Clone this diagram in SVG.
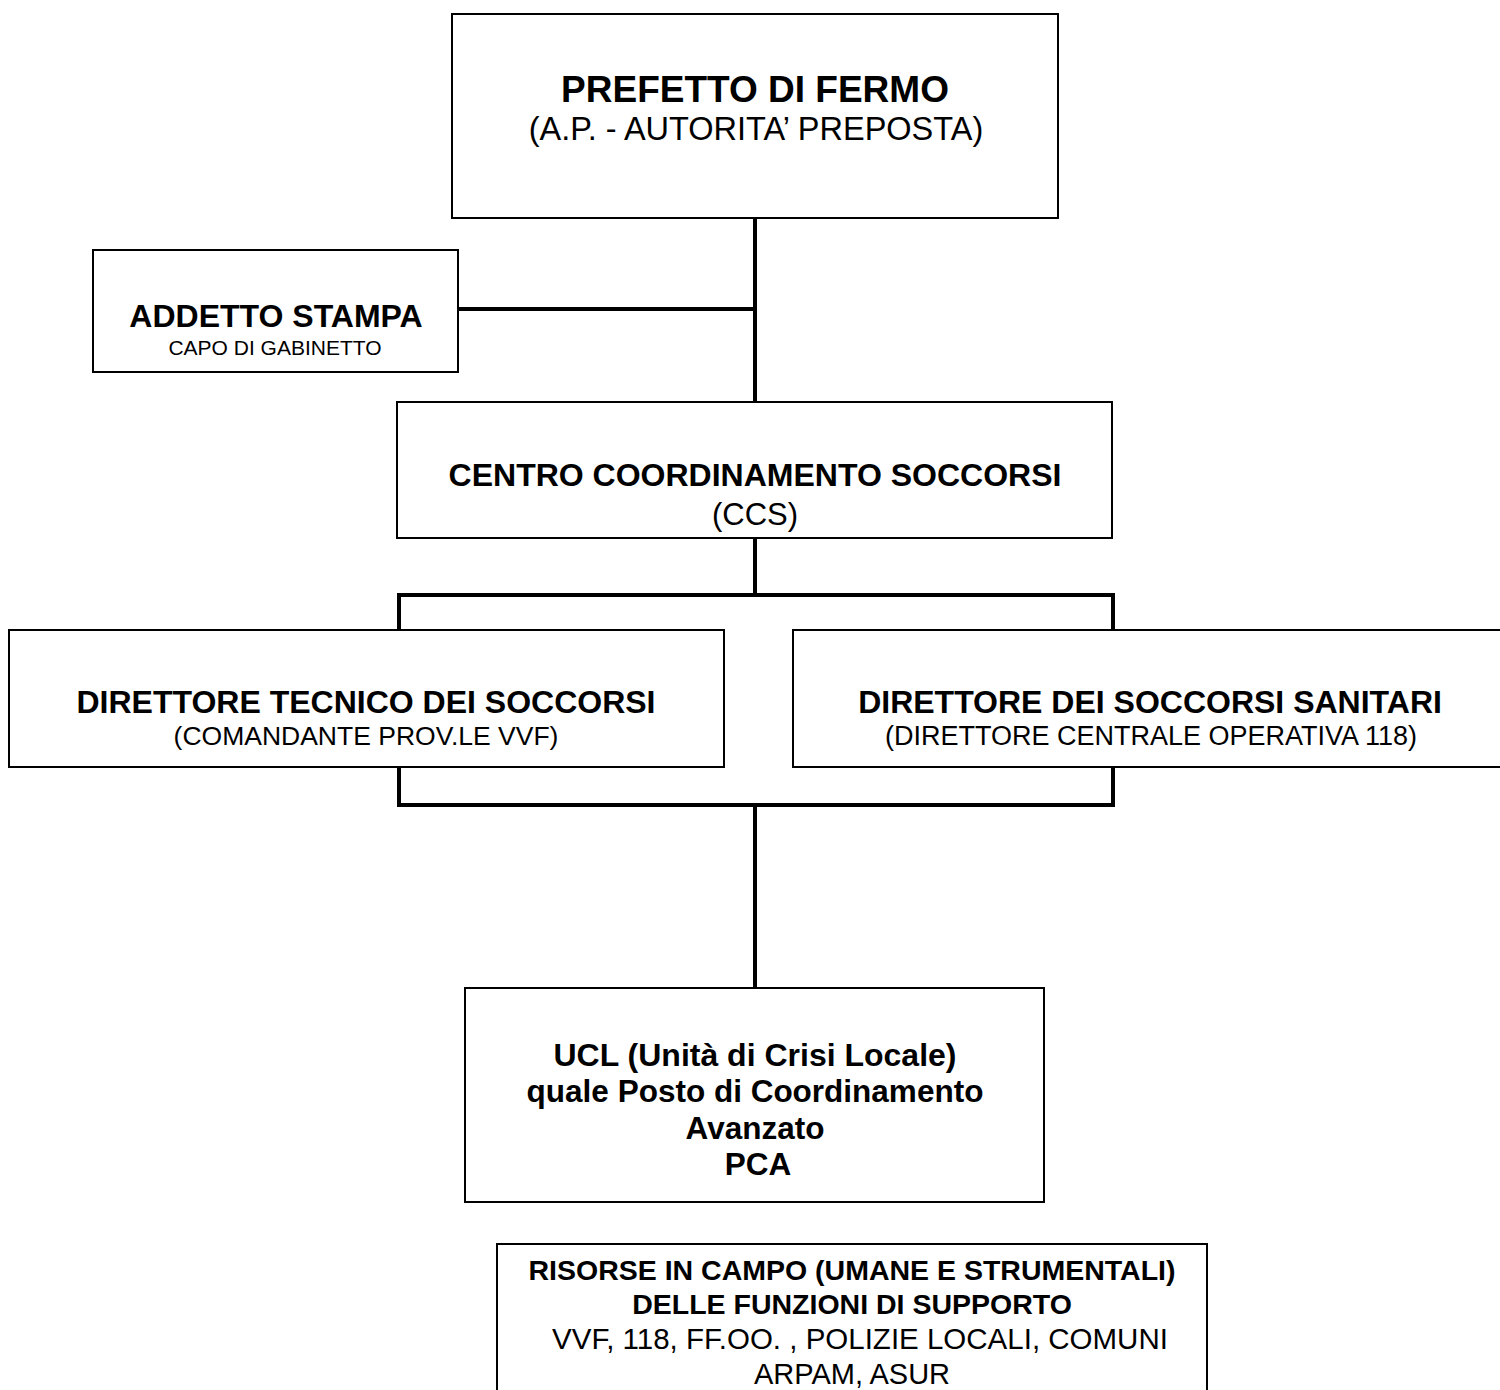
<svg xmlns="http://www.w3.org/2000/svg" width="1500" height="1390" viewBox="0 0 1500 1390">
<style>
.box{fill:#fff;stroke:#000;stroke-width:2}
.con{fill:none;stroke:#000;stroke-width:4;stroke-linecap:square}
text{font-family:"Liberation Sans",Arial,sans-serif;fill:#000;text-anchor:middle}
.b{font-weight:bold}
</style>
<rect width="1500" height="1390" fill="#fff"/>
<g id="connectors">
<path class="con" d="M755,218 V402"/>
<path class="con" d="M458,309 H755"/>
<path class="con" d="M755,538 V595"/>
<path class="con" d="M399,630 V595 H1113 V630"/>
<path class="con" d="M399,767 V805 H1113 V767"/>
<path class="con" d="M755,805 V988"/>
</g>
<g id="prefetto">
<rect class="box" x="452" y="14" width="606" height="204"/>
<text class="b" x="755" y="102" font-size="37">PREFETTO DI FERMO</text>
<text x="756" y="140" font-size="32.5">(A.P. - AUTORITA’ PREPOSTA)</text>
</g>
<g id="addetto">
<rect class="box" x="93" y="250" width="365" height="122"/>
<text class="b" x="276" y="327" font-size="32">ADDETTO STAMPA</text>
<text x="275" y="355" font-size="21">CAPO DI GABINETTO</text>
</g>
<g id="ccs">
<rect class="box" x="397" y="402" width="715" height="136"/>
<text class="b" x="755" y="486" font-size="32">CENTRO COORDINAMENTO SOCCORSI</text>
<text x="755" y="525" font-size="31">(CCS)</text>
</g>
<g id="dts">
<rect class="box" x="9" y="630" width="715" height="137"/>
<text class="b" x="366" y="713" font-size="32">DIRETTORE TECNICO DEI SOCCORSI</text>
<text x="366" y="745" font-size="26.5">(COMANDANTE PROV.LE VVF)</text>
</g>
<g id="dss">
<rect class="box" x="793" y="630" width="712" height="137"/>
<text class="b" x="1150" y="713" font-size="32">DIRETTORE DEI SOCCORSI SANITARI</text>
<text x="1151" y="745" font-size="27">(DIRETTORE CENTRALE OPERATIVA 118)</text>
</g>
<g id="ucl">
<rect class="box" x="465" y="988" width="579" height="214"/>
<text class="b" x="755" y="1066" font-size="32">UCL (Unità di Crisi Locale)</text>
<text class="b" x="755" y="1102" font-size="31.5">quale Posto di Coordinamento</text>
<text class="b" x="755" y="1139" font-size="31.5">Avanzato</text>
<text class="b" x="758" y="1175" font-size="31.5">PCA</text>
</g>
<g id="risorse">
<rect class="box" x="497" y="1244" width="710" height="160"/>
<text class="b" x="852" y="1280" font-size="28.5">RISORSE IN CAMPO (UMANE E STRUMENTALI)</text>
<text class="b" x="852" y="1314" font-size="28.5">DELLE FUNZIONI DI SUPPORTO</text>
<text x="860" y="1349" font-size="29.5">VVF, 118, FF.OO. , POLIZIE LOCALI, COMUNI</text>
<text x="852" y="1384" font-size="29">ARPAM, ASUR</text>
</g>
</svg>
